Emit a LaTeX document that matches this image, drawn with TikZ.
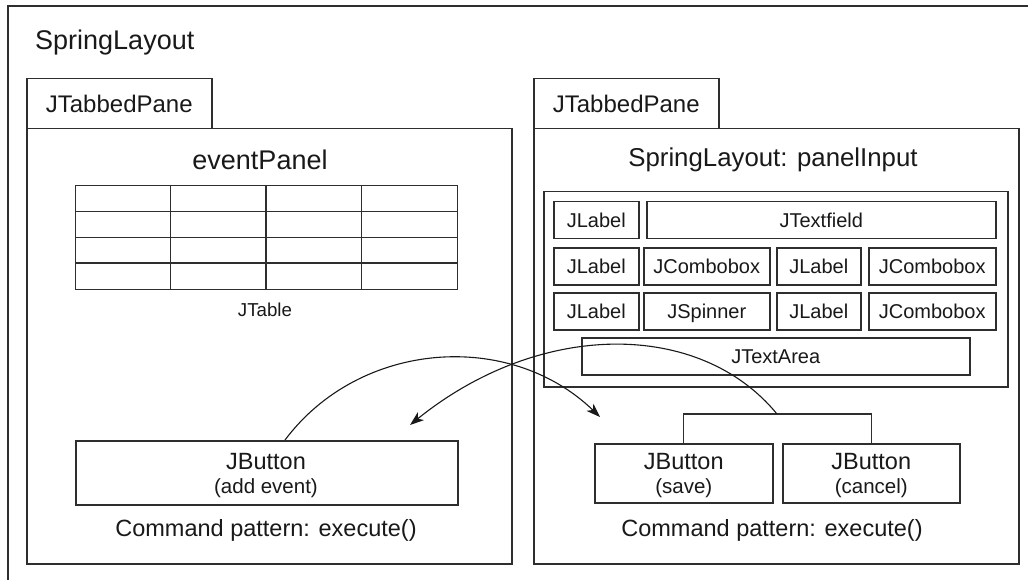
\documentclass[tikz,border=0pt]{standalone}
\usepackage{fontspec}
\setmainfont{Liberation Sans}
\usetikzlibrary{arrows.meta}
\begin{document}
\begin{tikzpicture}[x=1pt,y=-1pt,
  frame/.style={draw=black!82, line width=1.5pt},
  box/.style={frame, rectangle, inner sep=0pt, anchor=north west, text=black!90},
  tabbox/.style={box, font=\fontsize{24}{28}\selectfont, text height=17.2pt, text depth=0pt},
  cell/.style={box, font=\fontsize{20}{24}\selectfont, text height=14.3pt, text depth=0pt},
  lbl/.style={anchor=base, inner sep=0pt, text=black!90},
  conn/.style={draw=black!90, line width=1.1pt, -{Stealth[length=14pt,width=10pt,inset=4pt]}}
]
\useasboundingbox[fill=white] (0,0) rectangle (1028,580);
% outer frame
\draw[frame] (8,600) -- (8,6) -- (1040,6);
\node[anchor=base west, inner sep=0pt, text=black!90, font=\fontsize{27}{32}\selectfont] (title) at (35,50) {SpringLayout};

% left pane
\node[box, minimum width=485pt, minimum height=435pt] (lpanel) at (26,128) {};
\node[tabbox, minimum width=185pt, minimum height=50pt] (ltab) at (26,78) {JTabbedPane};
\node[lbl, font=\fontsize{27}{32}\selectfont] (evp) at (260,170) {eventPanel};
% table
\node[box, minimum width=382pt, minimum height=104pt, line width=1.3pt] (table) at (75,185) {};
\draw[frame, line width=1.2pt] (75,211.5) -- (457,211.5) (75,237.5) -- (457,237.5) (75,263) -- (457,263)
  (170.5,185) -- (170.5,289) (266,185) -- (266,289) (361.5,185) -- (361.5,289);
\node[lbl, font=\fontsize{18.7}{22}\selectfont] (jtable) at (265,316) {JTable};
% add event button
\node[box, minimum width=382pt, minimum height=64pt] (addbtn) at (75,440) {};
\node[lbl, font=\fontsize{23.5}{28}\selectfont] (addt1) at (266,469) {JButton};
\node[lbl, font=\fontsize{20.5}{24}\selectfont] (addt2) at (266,493) {(add event)};
\node[lbl, font=\fontsize{23.5}{28}\selectfont] (lcmd) at (266,536) {Command pattern: execute()};

% right pane
\node[box, minimum width=485pt, minimum height=435pt] (rpanel) at (533,128) {};
\node[tabbox, minimum width=185pt, minimum height=50pt] (rtab) at (533,78) {JTabbedPane};
\node[lbl, font=\fontsize{25.8}{30}\selectfont] (pin) at (773,167) {SpringLayout: panelInput};
\node[box, minimum width=464pt, minimum height=195pt] (inner) at (543,191) {};
% row 1
\node[cell, minimum width=85pt, minimum height=37pt] (l1) at (553,201) {JLabel};
\node[cell, minimum width=349pt, minimum height=37pt] (tf) at (646,201) {JTextfield};
% row 2
\node[cell, minimum width=85pt, minimum height=37pt] (l2) at (553,247) {JLabel};
\node[cell, minimum width=126pt, minimum height=37pt] (c2a) at (643,247) {JCombobox};
\node[cell, minimum width=84pt, minimum height=37pt] (l2b) at (776,247) {JLabel};
\node[cell, minimum width=127pt, minimum height=37pt] (c2b) at (868,247) {JCombobox};
% row 3
\node[cell, minimum width=85pt, minimum height=37pt] (l3) at (553,292) {JLabel};
\node[cell, minimum width=126pt, minimum height=37pt] (sp) at (643,292) {JSpinner};
\node[cell, minimum width=84pt, minimum height=37pt] (l3b) at (776,292) {JLabel};
\node[cell, minimum width=127pt, minimum height=37pt] (c3b) at (868,292) {JCombobox};
% text area
\node[cell, minimum width=388pt, minimum height=37pt] (ta) at (581,337) {JTextArea};
% buttons
\node[box, minimum width=178pt, minimum height=59pt] (save) at (594,443) {};
\node[box, minimum width=177pt, minimum height=59pt] (cancel) at (782,443) {};
\node[lbl, font=\fontsize{23.5}{28}\selectfont] (savet1) at (save.north |- 0,469) {JButton};
\node[lbl, font=\fontsize{20.5}{24}\selectfont] (savet2) at (save.north |- 0,493) {(save)};
\node[lbl, font=\fontsize{23.5}{28}\selectfont] (cant1) at (cancel.north |- 0,469) {JButton};
\node[lbl, font=\fontsize{20.5}{24}\selectfont] (cant2) at (cancel.north |- 0,493) {(cancel)};
\node[lbl, font=\fontsize{23.5}{28}\selectfont] (rcmd) at (772,536) {Command pattern: execute()};
% bracket
\draw[frame, line width=1.3pt] (save.north) -- (save.north |- 0,414) -- (cancel.north |- 0,414) -- (cancel.north);

% connectors
\coordinate (aStart) at (285,440);
\coordinate (aEnd) at (600,417);
\coordinate (brk) at (777,414);
\coordinate (bEnd) at (410,425);
\draw[conn] (aStart) .. controls (360,340) and (510,330) .. (aEnd);
\draw[conn] (brk) .. controls (700,320) and (540,320) .. (bEnd);
\end{tikzpicture}
\end{document}
